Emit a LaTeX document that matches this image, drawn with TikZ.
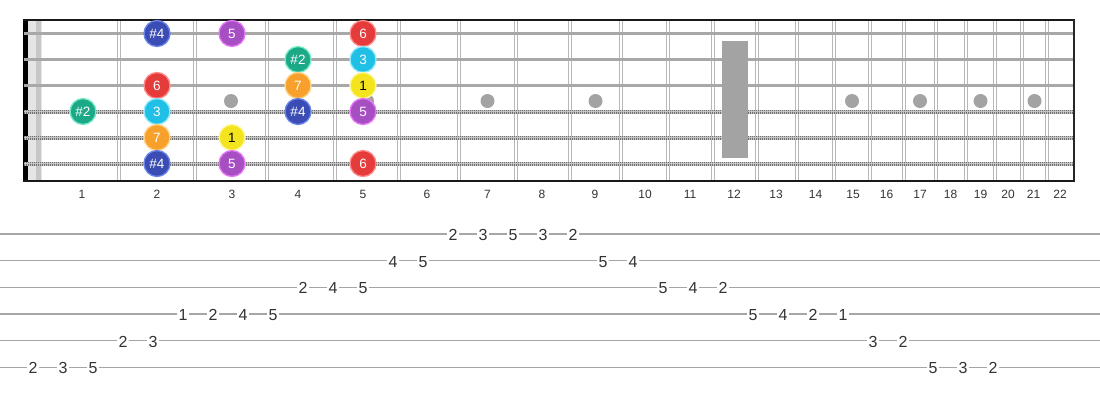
\documentclass[tikz,border=0pt]{standalone}
\usepackage{fontspec}
\setmainfont{Liberation Sans}
\definecolor{cB}{HTML}{3B4CB4}\definecolor{cBr}{HTML}{6A86EA}
\definecolor{cP}{HTML}{A64FC2}\definecolor{cPr}{HTML}{E676F5}
\definecolor{cR}{HTML}{E53B3B}\definecolor{cRr}{HTML}{FF8A8A}
\definecolor{cG}{HTML}{1CA987}\definecolor{cGr}{HTML}{7CEBC8}
\definecolor{cC}{HTML}{1FBFE6}\definecolor{cCr}{HTML}{95EAFC}
\definecolor{cO}{HTML}{F7A02C}\definecolor{cOr}{HTML}{FFD58A}
\definecolor{cY}{HTML}{F4E41E}\definecolor{cYr}{HTML}{FFF7A8}
\definecolor{fretc}{HTML}{B8B8B8}
\definecolor{strc}{HTML}{A8A8A8}
\definecolor{woundc}{HTML}{707070}
\definecolor{woundl}{HTML}{C4C4C4}
\definecolor{inlayc}{HTML}{A3A3A3}
\definecolor{txtc}{HTML}{333333}
\definecolor{tabc}{HTML}{A6A6A6}
\tikzset{
  notec/.style={circle, minimum size=26, inner sep=0, line width=1.3, text=white,
    font=\fontsize{13.5}{13.5}\selectfont},
  dS4/.style={notec, fill=cB, draw=cBr},
  dF/.style={notec, fill=cP, draw=cPr},
  dSx/.style={notec, fill=cR, draw=cRr},
  dS2/.style={notec, fill=cG, draw=cGr},
  dT/.style={notec, fill=cC, draw=cCr},
  dSv/.style={notec, fill=cO, draw=cOr},
  dR/.style={notec, fill=cY, draw=cYr, text=black},
  fretline/.style={fretc, line width=1.3},
  plainstr/.style={strc, line width=2.6},
  woundbase/.style={woundl, line width=4},
  woundtex/.style={woundc, line width=4, dash pattern=on 0.9 off 1.1},
  woundmid/.style={woundl, line width=1.2},
  inlay/.style={circle, fill=inlayc, inner sep=0, minimum size=14},
  fretnum/.style={text=txtc, font=\fontsize{12}{12}\selectfont, inner sep=0},
  tabline/.style={tabc, line width=1.6},
  tabn/.style={fill=white, inner sep=1.2, text=txtc, font=\fontsize{16}{16}\selectfont}
}
\begin{document}
\begin{tikzpicture}[x=1pt,y=-1pt]
\useasboundingbox (0,0) rectangle (1100,400);
\fill[white] (0,0) rectangle (1100,400);
% nut
\fill[black!10] (28,20) rectangle (42,181);
\fill[black!22] (36,20) rectangle (40.5,181);
% left bar
\fill[black] (23.3,20) rectangle (28.3,181);
% frets
\foreach \x in {119,195,267,335,399,459,516,570,621,668,713,757,797,834,870,904,936,966,995,1022,1047}{
  \draw[fretline] (\x-1.7,20) -- (\x-1.7,181);
  \draw[fretline] (\x+1.7,20) -- (\x+1.7,181);
}
% inlays
\foreach \x [count=\i] in {231,367,487.5,595.5,852,920,980.5,1034.5}
  \node[inlay] (dot\i) at (\x,101) {};
% plain strings
\foreach \y in {33.5,59.5,85.5}
  \draw[plainstr] (24,\y) -- (1074,\y);
% wound strings
\foreach \y in {111.5,137.5,163.5}{
  \draw[woundbase] (24,\y) -- (1074,\y);
  \draw[woundtex] (24,\y) -- (1074,\y);
  \draw[woundmid] (24,\y) -- (1074,\y);
}
% 12th fret marker
\fill[inlayc] (722,41) rectangle (748,158);
% border
\draw[black!90, line width=1.6] (23.3,20) -- (1074.5,20);
\draw[black!90, line width=2] (23.3,181) -- (1074.5,181);
\draw[black!85, line width=1.8] (1074,20) -- (1074,181);
% fret numbers
\foreach \x [count=\i] in {82,157,232,298,363,427,487.5,542,595,645,690,734,776,815.5,853,886.5,920,950.5,980.5,1008,1033.5,1060}
  \node[fretnum] (fn\i) at (\x,194) {\i};
% notes
\node[dS4] (a1) at (157,33.5) {\#4};
\node[dF]  (a2) at (232,33.5) {5};
\node[dSx] (a3) at (363,33.5) {6};
\node[dS2] (b1) at (298,59.5) {\#2};
\node[dT]  (b2) at (363,59.5) {3};
\node[dSx] (c1) at (157,85.5) {6};
\node[dSv] (c2) at (298,85.5) {7};
\node[dR]  (c3) at (363,85.5) {1};
\node[dS2] (d1) at (83,111.5) {\#2};
\node[dT]  (d2) at (157,111.5) {3};
\node[dS4] (d3) at (298,111.5) {\#4};
\node[dF]  (d4) at (363,111.5) {5};
\node[dSv] (e1) at (157,137.5) {7};
\node[dR]  (e2) at (232,137.5) {1};
\node[dS4] (f1) at (157,163.5) {\#4};
\node[dF]  (f2) at (232,163.5) {5};
\node[dSx] (f3) at (363,163.5) {6};
% tab lines
\foreach \r in {1,...,6}
  \draw[tabline] (0,{234+26.67*(\r-1)}) -- (1100,{234+26.67*(\r-1)});
% tab numbers
\foreach \k/\r/\f in {0/6/2,1/6/3,2/6/5,3/5/2,4/5/3,5/4/1,6/4/2,7/4/4,8/4/5,9/3/2,10/3/4,11/3/5,12/2/4,13/2/5,14/1/2,15/1/3,16/1/5,17/1/3,18/1/2,19/2/5,20/2/4,21/3/5,22/3/4,23/3/2,24/4/5,25/4/4,26/4/2,27/4/1,28/5/3,29/5/2,30/6/5,31/6/3,32/6/2}
  \node[tabn] (t\k) at ({33+30*\k},{235+26.67*(\r-1)}) {\f};
\end{tikzpicture}
\end{document}
